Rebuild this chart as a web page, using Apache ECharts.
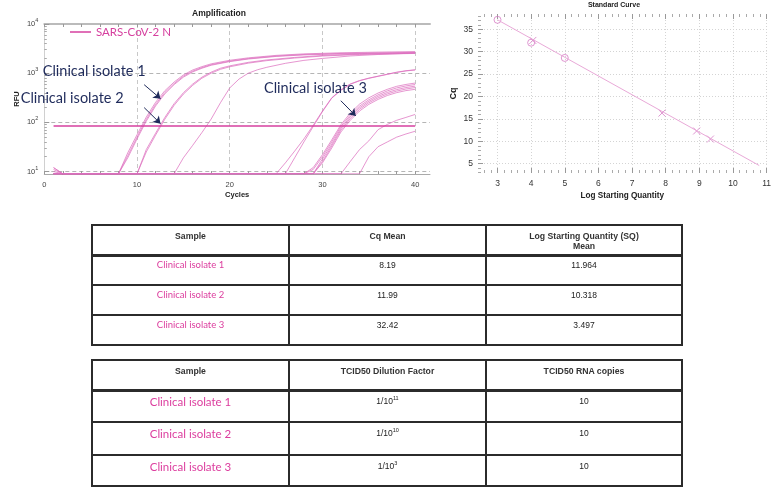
<!DOCTYPE html>
<html>
<head>
<meta charset="utf-8">
<script src="https://cdn.jsdelivr.net/npm/echarts@6/dist/echarts.min.js"></script>
<style>
html,body{margin:0;padding:0;background:#fff;width:774px;height:489px;overflow:hidden;}
#chart{position:absolute;left:0;top:0;width:774px;height:489px;}
.ln{position:absolute;background:#2b2b2b;}
.tx{position:absolute;text-align:center;white-space:nowrap;}
.hd{font:bold 8.7px "Liberation Sans",Arial,sans-serif;color:#333;line-height:10px;}
.num{font:8.5px "Liberation Sans Narrow","Liberation Sans",Arial,sans-serif;color:#222;line-height:10px;}
.s1{font:9.5px Lato,sans-serif;color:#dc3d9e;line-height:12px;}
.s2{font:11.5px Lato,sans-serif;color:#dc3d9e;line-height:14px;}
sup{font-size:5.5px;vertical-align:4px;line-height:0;}
</style>
</head>
<body>
<div id="chart"></div>
<div id="tables"></div>
<script>
// ---------------- data ----------------
const ampTitle = 'Amplification';
const stdTitle = 'Standard Curve';
const legendName = 'SARS-CoV-2 N';
const ampXLabels = [0, 10, 20, 30, 40];          // cycles
const ampYDecades = [1, 2, 3, 4];                // log10(RFU) -> 10^1..10^4
const stdXLabels = [3, 4, 5, 6, 7, 8, 9, 10, 11];
const stdYLabels = [5, 10, 15, 20, 25, 30, 35];

// amplification curves: [cycle, RFU]
const thresholdRFU = [[1, 84], [40, 84]];
const curveA1 = [[1,12],[2,9],[8,9],[9,24],[10,56],[11,128],[12,255],[13,440],[14,660],[15,920],[16,1160],[17,1360],[18,1550],[20,1830],[22,2050],[25,2300],[28,2470],[32,2600],[36,2680],[40,2750]];
const curveA2 = [[1,11],[2,9],[8,9],[9,21],[10,50],[11,115],[12,232],[13,405],[14,615],[15,870],[16,1100],[17,1300],[18,1490],[20,1760],[22,1980],[25,2230],[28,2400],[32,2520],[36,2590],[40,2650]];
const curveA3 = [[1,10],[2,9],[8,9],[9,19],[10,46],[11,106],[12,215],[13,380],[14,585],[15,830],[16,1060],[17,1260],[18,1450],[20,1720],[22,1940],[25,2190],[28,2350],[32,2470],[36,2540],[40,2600]];
const curveB1 = [[1,12],[2,9],[10,9],[11,28],[12,60],[13,126],[14,240],[15,400],[16,600],[17,830],[18,1050],[19,1260],[20,1410],[22,1660],[24,1860],[27,2090],[30,2290],[34,2450],[40,2570]];
const curveB2 = [[1,9],[2,9],[10,9],[11,25],[12,55],[13,116],[14,222],[15,375],[16,565],[17,790],[18,1000],[19,1200],[20,1350],[22,1600],[24,1800],[27,2030],[30,2230],[34,2400],[40,2520]];
const curveC  = [[1,9],[2,9],[14,9],[15,19],[16,34],[17,62],[18,117],[19,251],[20,501],[21,759],[22,1000],[23,1175],[24,1318],[26,1585],[28,1820],[30,1995],[33,2239],[36,2399],[40,2570]];
const curveD1 = [[1,9],[2,9],[25,9],[26,15],[27,26],[28,46],[29,87],[30,170],[31,316],[32,457],[33,603],[34,708],[35,794],[36,871],[37,955],[38,1047],[39,1122],[40,1175]];
const curveD2 = [[1,9],[2,9],[26,9],[27,19],[28,40],[29,82],[30,165],[31,310],[32,450],[33,595],[34,700],[35,785],[36,862],[37,945],[38,1035],[39,1110],[40,1160]];
const curveE1 = [[1,9],[2,9],[28,9],[29,12],[30,22],[31,44],[32,90],[33,155],[34,235],[35,315],[36,395],[37,470],[38,540],[39,590],[40,630]];
const curveE2 = [[1,9],[2,9],[28,9],[29,11],[30,20],[31,40],[32,83],[33,141],[34,214],[35,288],[36,363],[37,437],[38,501],[39,550],[40,589]];
const curveE3 = [[1,9],[2,9],[29,9],[30,18],[31,36],[32,76],[33,130],[34,198],[35,268],[36,338],[37,405],[38,463],[39,510],[40,545]];
const curveE4 = [[1,9],[2,9],[29,9],[30,16],[31,33],[32,70],[33,120],[34,184],[35,250],[36,315],[37,378],[38,432],[39,476],[40,510]];
const curveE5 = [[1,9],[2,9],[29,9],[30,15],[31,30],[32,64],[33,110],[34,170],[35,232],[36,293],[37,352],[38,402],[39,442],[40,470]];
const curveF1 = [[1,9],[2,9],[32,9],[33,16],[34,28],[35,42],[36,71],[37,91],[38,110],[39,126],[40,145]];
const curveF2 = [[1,9],[2,9],[34,9],[35,20],[36,32],[37,40],[38,50],[39,58],[40,66]];

// standard curve: [log starting quantity, Cq]
const stdFitLine = [[3, 37.1], [10.78, 4.6]];
const stdStandards = [[3, 37.1], [4, 32.0], [5, 28.6]];
const stdUnknowns = [[4.05, 32.5], [7.89, 16.3], [8.92, 12.3], [9.33, 10.5]];

// annotation texts
const isolateLabels = ['Clinical isolate 1', 'Clinical isolate 2', 'Clinical isolate 3'];

// tables
const table1Head = ['Sample', 'Cq Mean', 'Log Starting Quantity (SQ)', 'Mean'];
const samples = ['Clinical isolate 1', 'Clinical isolate 2', 'Clinical isolate 3'];
const cqMean = ['8.19', '11.99', '32.42'];
const logSQMean = ['11.964', '10.318', '3.497'];
const table2Head = ['Sample', 'TCID50 Dilution Factor', 'TCID50 RNA copies'];
const dilutionExp = ['11', '10', '3'];
const rnaCopies = ['10', '10', '10'];

// ---------------- chart ----------------
const curves = [curveA1, curveA2, curveA3, curveB1, curveB2, curveC, curveD1, curveD2,
  curveE1, curveE2, curveE3, curveE4, curveE5, curveF1, curveF2];
const lg = v => Math.log10(v);
const round = v => Math.round(v * 1000) / 1000;

const ampXTicks = []; for (let c = 0; c <= 40; c += 2) ampXTicks.push(c);
const ampYMinor = [];
for (let d = 0; d <= 3; d++) for (let k = 2; k <= 9; k++) { const v = round(d + Math.log10(k)); if (v >= 0.95 && v <= 4) ampYMinor.push(v); }
const stdXMinor = []; for (let i = 13; i <= 54; i++) { const v = round(i * 0.2); if (Math.abs(v - Math.round(v)) > 0.01) stdXMinor.push(v); }
const stdYMinor = []; for (let v = 3; v <= 38; v++) if (v % 5 !== 0) stdYMinor.push(v);

const curveColor = '#dc6cbd';
const navy = '#1f2b5b';
const axisFont = '"Liberation Sans", Arial, sans-serif';

const series = curves.map(c => ({
  type: 'line', xAxisIndex: 0, yAxisIndex: 0,
  data: c.map(p => [p[0], lg(p[1])]),
  symbol: 'none', silent: true, z: 2,
  lineStyle: { color: curveColor, width: 0.8, opacity: 0.9 }
}));
series.push({
  name: legendName, type: 'line', xAxisIndex: 0, yAxisIndex: 0,
  data: thresholdRFU.map(p => [p[0], lg(p[1])]),
  symbol: 'none', silent: true, z: 3,
  itemStyle: { color: '#d6409f' },
  lineStyle: { color: '#d6409f', width: 1.5 }
});
// arrows (annotation, in data space: cycle, log10 RFU)
series.push({
  type: 'line', xAxisIndex: 0, yAxisIndex: 0, data: [], silent: true,
  markLine: {
    silent: true, animation: false, symbol: ['none', 'arrow'], symbolSize: 7,
    label: { show: false },
    lineStyle: { color: navy, width: 1, type: 'solid' },
    emphasis: { disabled: true },
    data: [
      [{ coord: [10.77, 2.766] }, { coord: [12.54, 2.482] }],
      [{ coord: [10.77, 2.30] }, { coord: [12.54, 1.974] }],
      [{ coord: [31.98, 2.44] }, { coord: [33.6, 2.13] }]
    ]
  }
});
// standard curve
const pink = '#d77cc6';
series.push({
  type: 'line', xAxisIndex: 3, yAxisIndex: 3, data: stdFitLine, symbol: 'none', silent: true,
  lineStyle: { color: '#e9a9d8', width: 1 }
});
series.push({
  type: 'scatter', xAxisIndex: 3, yAxisIndex: 3, data: stdStandards, symbol: 'circle', symbolSize: 7,
  silent: true, itemStyle: { color: 'rgba(255,255,255,0)', borderColor: pink, borderWidth: 1 }
});
series.push({
  type: 'scatter', xAxisIndex: 3, yAxisIndex: 3, data: stdUnknowns,
  symbol: 'path://M0,0L10,10M10,0L0,10', symbolSize: 7, silent: true,
  itemStyle: { color: 'none', borderColor: pink, borderWidth: 1 }
});

const xBase = { type: 'value', axisLine: { show: false, onZero: false }, axisLabel: { show: false }, splitLine: { show: false } };

const option = {
  animation: false,
  backgroundColor: '#fff',
  grid: [
    { left: 32, top: 24, width: 398, height: 150 },
    { left: 478, top: 14, width: 289, height: 159 }
  ],
  legend: {
    data: [legendName], left: 70, top: 26, padding: 0, selectedMode: false,
    icon: 'rect', itemWidth: 21, itemHeight: 1.5,
    textStyle: { color: '#d6409f', fontSize: 11.5, fontFamily: 'Lato' }
  },
  xAxis: [
    { ...xBase, gridIndex: 0, min: 0, max: 41.6, position: 'bottom',
      axisLine: { show: true, onZero: false, lineStyle: { color: '#aaa', width: 1 } },
      axisTick: { show: true, inside: true, length: 3, customValues: ampXTicks, lineStyle: { color: '#999' } },
      axisLabel: { show: true, customValues: ampXLabels, fontSize: 7.5, color: '#444', margin: 7, fontFamily: axisFont },
      name: 'Cycles', nameLocation: 'middle', nameGap: 17,
      nameTextStyle: { fontWeight: 'bold', fontSize: 7.5, color: '#222', fontFamily: axisFont } },
    { ...xBase, gridIndex: 0, min: 0, max: 41.6, position: 'top',
      axisLine: { show: true, onZero: false, lineStyle: { color: '#bbb', width: 2 } },
      axisTick: { show: true, inside: true, length: 3, customValues: ampXTicks, lineStyle: { color: '#999' } } },
    { ...xBase, gridIndex: 0, min: 0, max: 41.6, position: 'bottom',
      axisTick: { show: false, customValues: ampXLabels.slice(1) },
      splitLine: { show: true, lineStyle: { color: '#c8c8c8', width: 1, type: [4, 3] } } },
    { ...xBase, gridIndex: 1, min: 2.42, max: 11, position: 'bottom',
      axisTick: { show: true, inside: true, length: 5, customValues: stdXLabels, lineStyle: { color: '#999' } },
      axisLabel: { show: true, customValues: stdXLabels, fontSize: 8.5, color: '#333', margin: 6, fontFamily: axisFont },
      splitLine: { show: true, lineStyle: { color: '#d4d4d4', width: 1, type: [1, 2] } },
      name: 'Log Starting Quantity', nameLocation: 'middle', nameGap: 19,
      nameTextStyle: { fontWeight: 'bold', fontSize: 8.2, color: '#222', fontFamily: axisFont } },
    { ...xBase, gridIndex: 1, min: 2.42, max: 11, position: 'bottom',
      axisTick: { show: true, inside: true, length: 3, customValues: stdXMinor, lineStyle: { color: '#aaa' } } },
    { ...xBase, gridIndex: 1, min: 2.42, max: 11, position: 'top',
      axisTick: { show: true, inside: true, length: 5, customValues: stdXLabels, lineStyle: { color: '#999' } } },
    { ...xBase, gridIndex: 1, min: 2.42, max: 11, position: 'top',
      axisTick: { show: true, inside: true, length: 3, customValues: stdXMinor, lineStyle: { color: '#aaa' } } }
  ],
  yAxis: [
    { ...xBase, gridIndex: 0, min: 0.95, max: 4, position: 'left',
      axisLine: { show: true, onZero: false, lineStyle: { color: '#d0d0d0', width: 1 } },
      axisTick: { show: true, inside: true, length: 5, customValues: ampYDecades, lineStyle: { color: '#999' } },
      axisLabel: { show: true, customValues: ampYDecades, margin: 6, fontSize: 7.5, color: '#444', fontFamily: axisFont,
        formatter: v => '10{s|' + Math.round(v) + '}',
        rich: { s: { fontSize: 5.5, color: '#444', fontFamily: axisFont, padding: [0, 0, 7, 0] } } },
      name: 'RFU', nameLocation: 'middle', nameGap: 23, nameRotate: 90,
      nameTextStyle: { fontWeight: 'bold', fontSize: 7.5, color: '#222', fontFamily: axisFont } },
    { ...xBase, gridIndex: 0, min: 0.95, max: 4, position: 'left',
      axisTick: { show: true, inside: true, length: 2.5, customValues: ampYMinor, lineStyle: { color: '#aaa' } } },
    { ...xBase, gridIndex: 0, min: 0.95, max: 4, position: 'left',
      axisTick: { show: false, customValues: [1, 2, 3] },
      splitLine: { show: true, lineStyle: { color: '#b5b5b5', width: 1, type: [4, 3] } } },
    { ...xBase, gridIndex: 1, min: 2.93, max: 38.4, position: 'left',
      axisTick: { show: true, inside: true, length: 5, customValues: stdYLabels, lineStyle: { color: '#999' } },
      axisLabel: { show: true, customValues: stdYLabels, fontSize: 8.5, color: '#333', margin: 5, fontFamily: axisFont },
      splitLine: { show: true, lineStyle: { color: '#d4d4d4', width: 1, type: [1, 2] } },
      name: 'Cq', nameLocation: 'middle', nameGap: 20, nameRotate: 90,
      nameTextStyle: { fontWeight: 'bold', fontSize: 9, color: '#222', fontFamily: axisFont } },
    { ...xBase, gridIndex: 1, min: 2.93, max: 38.4, position: 'left',
      axisTick: { show: true, inside: true, length: 3, customValues: stdYMinor, lineStyle: { color: '#aaa' } } }
  ],
  graphic: [
    { type: 'text', x: 219, y: 14, z: 100, silent: true,
      style: { text: ampTitle, font: 'bold 8.5px "Liberation Sans"', fill: '#222', align: 'center', verticalAlign: 'middle' } },
    { type: 'text', x: 614, y: 5, z: 100, silent: true,
      style: { text: stdTitle, font: 'bold 7px "Liberation Sans"', fill: '#222', align: 'center', verticalAlign: 'middle' } },
    { type: 'text', x: 42.7, y: 71, z: 100, silent: true,
      style: { text: isolateLabels[0], font: '14.5px Lato', fill: navy, verticalAlign: 'middle' } },
    { type: 'text', x: 20.7, y: 98, z: 100, silent: true,
      style: { text: isolateLabels[1], font: '14.5px Lato', fill: navy, verticalAlign: 'middle' } },
    { type: 'text', x: 264, y: 88.5, z: 100, silent: true,
      style: { text: isolateLabels[2], font: '14.5px Lato', fill: navy, verticalAlign: 'middle' } }
  ],
  series
};

const chart = echarts.init(document.getElementById('chart'), null, { renderer: 'canvas' });
chart.setOption(option);

// ---------------- tables ----------------
const host = document.getElementById('tables');
function el(cls, css, html) {
  const d = document.createElement('div');
  d.className = cls; d.style.cssText = css; if (html !== undefined) d.innerHTML = html;
  host.appendChild(d); return d;
}
function grid(xs, ys, headW) {
  const x0 = xs[0], x3 = xs[xs.length - 1], y0 = ys[0], y4 = ys[ys.length - 1];
  ys.forEach((y, i) => {
    const th = i === 1 ? headW : 1.5;
    el('ln', `left:${x0 - 0.75}px;top:${y - th / 2}px;width:${x3 - x0 + 1.5}px;height:${th}px;`);
  });
  xs.forEach(x => el('ln', `left:${x - 0.75}px;top:${y0}px;width:1.5px;height:${y4 - y0}px;`));
}
function cell(xs, col, cy, lh, cls, html) {
  el('tx ' + cls, `left:${xs[col]}px;width:${xs[col + 1] - xs[col]}px;top:${cy - lh / 2}px;`, html);
}
const T1x = [92, 289, 486, 682], T1y = [225, 255, 285, 315, 345];
const T2x = [92, 289, 486, 682], T2y = [360, 390, 422, 455, 486];
grid(T1x, T1y, 3);
grid(T2x, T2y, 3);
cell(T1x, 0, 236, 10, 'hd', table1Head[0]);
cell(T1x, 1, 236, 10, 'hd', table1Head[1]);
cell(T1x, 2, 241, 20, 'hd', table1Head[2] + '<br>' + table1Head[3]);
samples.forEach((s, i) => {
  const cy = T1y[i + 1] + 10;
  cell(T1x, 0, cy, 12, 's1', s);
  cell(T1x, 1, cy, 10, 'num', cqMean[i]);
  cell(T1x, 2, cy, 10, 'num', logSQMean[i]);
});
table2Head.forEach((h, c) => cell(T2x, c, 370.7, 10, 'hd', h));
samples.forEach((s, i) => {
  const cy = T2y[i + 1] + 11.5;
  cell(T2x, 0, cy, 14, 's2', s);
  cell(T2x, 1, cy - 0.5, 10, 'num', '1/10<sup>' + dilutionExp[i] + '</sup>');
  cell(T2x, 2, cy - 0.5, 10, 'num', rnaCopies[i]);
});
</script>
</body>
</html>
